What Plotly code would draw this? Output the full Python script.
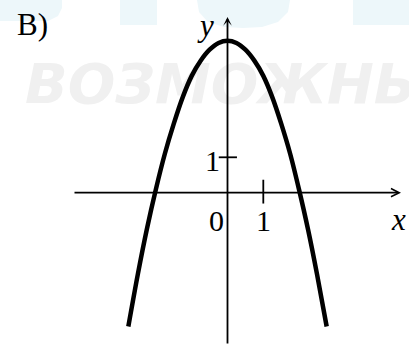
import plotly.graph_objects as go

# curve (x, y in graph units)
curve_x = [-2.77, -2.5, -2.25, -2.0, -1.75, -1.5, -1.25, -1.0, -0.75, -0.5, -0.25, 0.0,
           0.25, 0.5, 0.75, 1.0, 1.25, 1.5, 1.75, 2.0, 2.25, 2.5, 2.77]
curve_y = [-3.78, -2.28, -1.02, 0.1, 1.1, 1.95, 2.7, 3.3, 3.73, 4.04, 4.23, 4.29,
           4.23, 4.04, 3.73, 3.3, 2.7, 1.95, 1.1, 0.08, -1.04, -2.3, -3.78]

x_ticks = [1]
y_ticks = [1]
x_tick_text = ["1"]
y_tick_text = ["1"]
origin_text = "0"
panel_label = "В)"
watermark = "ВОЗМОЖНЫ"

# pixel mapping of the picture
W, H = 409, 345
X0, Y0 = 227.5, 192.7      # origin in px
UX, UY = 35.8, 35.4        # px per unit


def dx(px):
    return (px - X0) / UX


def dy(py):
    return (Y0 - py) / UY


serif = "Liberation Serif"

fig = go.Figure()

# faint watermark behind everything
fig.add_trace(go.Scatter(
    x=[dx(25)], y=[dy(89)], mode="text", text=[watermark],
    textposition="middle right",
    textfont=dict(family="DejaVu Sans", size=56, color="#f0f0f0",
                  weight="bold", style="italic"),
    hoverinfo="skip", showlegend=False,
))

# parabola
fig.add_trace(go.Scatter(
    x=curve_x, y=curve_y, mode="lines",
    line=dict(color="black", width=4.5, shape="spline", smoothing=0.8),
    hoverinfo="skip", showlegend=False,
))

# tick marks
fig.add_trace(go.Scatter(
    x=x_ticks, y=[0.03] * len(x_ticks), mode="markers",
    marker=dict(symbol="line-ns", size=17, line=dict(color="black", width=1.8)),
    hoverinfo="skip", showlegend=False,
))
fig.add_trace(go.Scatter(
    x=[0.01] * len(y_ticks), y=y_ticks, mode="markers",
    marker=dict(symbol="line-ew", size=13, line=dict(color="black", width=1.8)),
    hoverinfo="skip", showlegend=False,
))

# axes as arrows
fig.add_annotation(x=dx(401), y=0, ax=dx(73), ay=0, axref="x", ayref="y",
                   xref="x", yref="y", text="", showarrow=True,
                   arrowhead=5, arrowsize=0.9, arrowwidth=1.8, arrowcolor="black")
fig.add_annotation(x=0, y=dy(17), ax=0, ay=dy(345), axref="x", ayref="y",
                   xref="x", yref="y", text="", showarrow=True,
                   arrowhead=3, arrowsize=0.8, arrowwidth=1.8, arrowcolor="black")

font = dict(family=serif, size=30, color="black")
ifont = dict(family=serif, size=31, color="black", style="italic")

for v, t in zip(x_ticks, x_tick_text):
    fig.add_annotation(x=v, y=0, text=t, showarrow=False, font=font, yshift=-28)
for v, t in zip(y_ticks, y_tick_text):
    fig.add_annotation(x=0, y=v, text=t, showarrow=False, font=font, xshift=-15, yshift=-3)
fig.add_annotation(x=0, y=0, text=origin_text, showarrow=False, font=font,
                   xshift=-11, yshift=-28)
fig.add_annotation(x=dx(398), y=dy(219), text="x", showarrow=False, font=ifont)
fig.add_annotation(x=dx(205), y=dy(25), text="y", showarrow=False, font=ifont)
fig.add_annotation(x=dx(32), y=dy(24), text=panel_label, showarrow=False,
                   font=dict(family=serif, size=31, color="black"))

# light blue watermark pieces at the top edge
blue = "#edf7fa"


def px_path(pts):
    return "M " + " L ".join(f"{x / W},{1 - y / H}" for x, y in pts) + " Z"


shapes = [
    px_path([(0, 0), (62, 0), (62, 8), (58, 16), (48, 21), (0, 21)]),
    px_path([(120, 0), (157, 0), (157, 25), (120, 25)]),
    px_path([(197, 0), (290, 0), (288, 12), (278, 22), (262, 27), (243, 28),
             (224, 27), (208, 22), (199, 12)]),
    px_path([(353, 0), (409, 0), (409, 25), (353, 25)]),
]
for p in shapes:
    fig.add_shape(type="path", path=p, xref="paper", yref="paper",
                  fillcolor=blue, line=dict(width=0), layer="below")

fig.update_layout(
    width=W, height=H, autosize=False,
    margin=dict(l=0, r=0, t=0, b=0),
    paper_bgcolor="white", plot_bgcolor="white",
    xaxis=dict(range=[dx(0), dx(W)], visible=False, fixedrange=True),
    yaxis=dict(range=[dy(H), dy(0)], visible=False, fixedrange=True),
    showlegend=False,
)

fig.write_html("out.html", config={"displayModeBar": False},
               post_script="document.body.style.margin='0';")
